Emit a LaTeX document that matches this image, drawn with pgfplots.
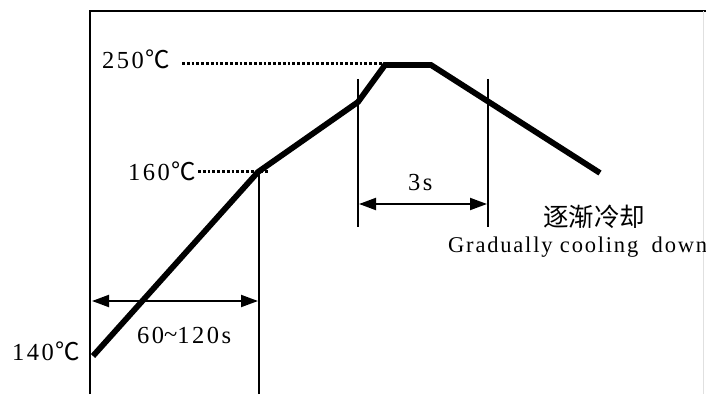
\documentclass[border=0pt]{standalone}
\usepackage{pgfplots}
\pgfplotsset{compat=1.18}
\usepackage{fontspec}
\setmainfont{Liberation Serif}
\newfontfamily\cjk{Noto Sans CJK SC}
\newfontfamily\lab[LetterSpace=10]{Liberation Serif}
\newfontfamily\eng[LetterSpace=8]{Liberation Serif}
\usetikzlibrary{arrows.meta}
\newcommand{\degc}{\hspace{1.5pt}{\cjk\fontsize{24.5}{26}\selectfont ℃}}
\begin{document}
\begin{tikzpicture}
\begin{axis}[
  at={(0,0)}, anchor=south west,
  width=706pt, height=394pt, scale only axis,
  xmin=0, xmax=706, ymin=0, ymax=394,
  hide axis, clip=false,
]
% frame
\addplot[black, line width=2.6pt, line join=miter] coordinates {(90,0) (90,383) (720,383)};
\addplot[black!12, line width=0.8pt] coordinates {(703,383) (703,0)};
% vertical markers
\addplot[black, line width=2pt] coordinates {(258.5,0) (258.5,222)};
\addplot[black, line width=2pt] coordinates {(358,315) (358,167)};
\addplot[black, line width=2pt] coordinates {(488,315) (488,167)};
% dotted levels
\addplot[black, line width=3pt, dash pattern=on 2.8pt off 2pt] coordinates {(182,330) (386,330)};
\addplot[black, line width=3pt, dash pattern=on 2.8pt off 2pt] coordinates {(198,222) (268,222)};
% dimension arrows
\addplot[black, line width=2pt, {Triangle[length=17pt,width=12pt]}-{Triangle[length=17pt,width=12pt]}] coordinates {(92,93) (258,93)};
\addplot[black, line width=2pt, {Triangle[length=17pt,width=12pt]}-{Triangle[length=17pt,width=12pt]}] coordinates {(359,190) (487,190)};
% temperature profile
\addplot[black, line width=5.8pt, line join=miter, line cap=butt] coordinates {
  (93,38) (258,222) (358,292) (385,329) (431,329) (600,221)};
% labels
\node[anchor=base west, inner sep=0pt] at (axis cs:102,325) {\fontsize{24.5}{26}\selectfont\lab 250\degc};
\node[anchor=base west, inner sep=0pt] at (axis cs:128,213) {\fontsize{24.5}{26}\selectfont\lab 160\degc};
\node[anchor=base west, inner sep=0pt] at (axis cs:12,34) {\fontsize{24.5}{26}\selectfont\lab 140\degc};
\node[anchor=base west, inner sep=0pt] at (axis cs:137,51) {\fontsize{24.5}{26}\selectfont\lab 60\raisebox{1pt}{\textasciitilde}120s};
\node[anchor=base west, inner sep=0pt] at (axis cs:408,204) {\fontsize{24.5}{26}\selectfont\lab 3s};
\node[anchor=center, inner sep=0pt] at (axis cs:594,177) {\fontsize{25.5}{27}\selectfont\cjk 逐渐冷却};
\node[anchor=base west, inner sep=0pt] at (axis cs:448,142) {\fontsize{22.5}{24}\selectfont\eng Gradually cooling\hspace{6pt} down};
\coordinate (bl) at (axis cs:0,0);
\coordinate (tr) at (axis cs:706,394);
\end{axis}
\pgfresetboundingbox
\useasboundingbox (bl) rectangle (tr);
\end{tikzpicture}
\end{document}
